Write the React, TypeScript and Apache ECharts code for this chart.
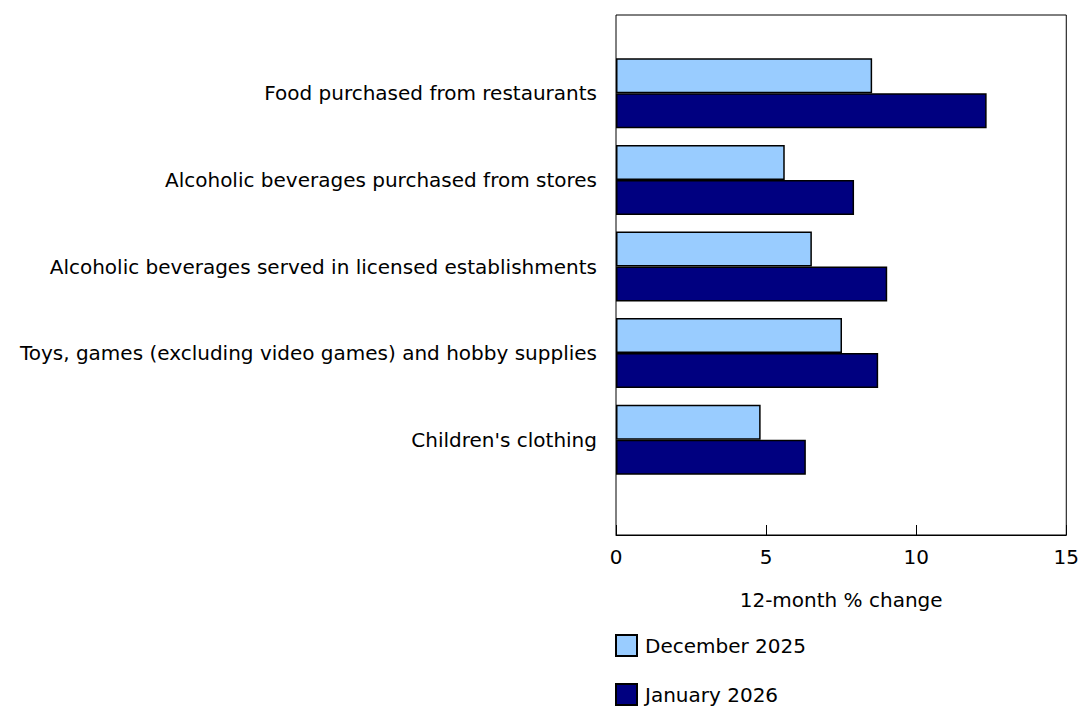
import React, { useEffect, useRef } from "react";
import * as echarts from "echarts";

const categories = [
  "Food purchased from restaurants",
  "Alcoholic beverages purchased from stores",
  "Alcoholic beverages served in licensed establishments",
  "Toys, games (excluding video games) and hobby supplies",
  "Children's clothing",
];
const december2025 = [8.5, 5.6, 6.5, 7.5, 4.8];
const january2026 = [12.3, 7.9, 9.0, 8.7, 6.3];
const seriesNames = ["December 2025", "January 2026"];
const xTicks = { min: 0, max: 15, interval: 5 };

const FONT = "DejaVu Sans, Verdana, sans-serif";
const FS = 20;

export default function App() {
  const ref = useRef<HTMLDivElement>(null);
  useEffect(() => {
    if (!ref.current) return;
    const chart = echarts.init(ref.current, null, { renderer: "svg" });
    const legendBase = {
      orient: "horizontal",
      left: 615,
      padding: 0,
      itemWidth: 21,
      itemHeight: 21,
      itemGap: 10,
      icon: "rect",
      textStyle: { fontSize: FS, color: "#000", fontFamily: FONT, padding: [0, 0, 0, 3] },
    };
    chart.setOption({
      animation: false,
      textStyle: { fontFamily: FONT },
      grid: [
        {
          left: 616,
          right: 14,
          top: 15,
          height: 520,
          show: true,
          borderColor: "#000",
          borderWidth: 1,
          backgroundColor: "transparent",
        },
        { left: 616, right: 14, top: 50, height: 433 },
      ],
      legend: [
        { ...legendBase, top: 634, data: [seriesNames[0]] },
        { ...legendBase, top: 683, data: [seriesNames[1]] },
      ],
      xAxis: [
        {
          gridIndex: 0,
          type: "value",
          min: xTicks.min,
          max: xTicks.max,
          interval: xTicks.interval,
          splitLine: { show: false },
          axisLine: { show: true, lineStyle: { color: "#000" } },
          axisTick: { show: true, inside: true, length: 10, lineStyle: { color: "#000" } },
          axisLabel: { color: "#000", fontSize: FS, margin: 12, fontFamily: FONT },
          name: "12-month % change",
          nameLocation: "middle",
          nameGap: 55,
          nameTextStyle: { color: "#000", fontSize: FS, fontFamily: FONT },
        },
        {
          gridIndex: 1,
          type: "value",
          min: xTicks.min,
          max: xTicks.max,
          interval: xTicks.interval,
          show: false,
          splitLine: { show: false },
        },
      ],
      yAxis: [
        {
          gridIndex: 0,
          type: "value",
          show: false,
          splitLine: { show: false },
        },
        {
          gridIndex: 1,
          type: "category",
          inverse: true,
          data: categories,
          axisLine: { show: false },
          axisTick: { show: false },
          axisLabel: { color: "#000", fontSize: FS, margin: 19, fontFamily: FONT },
        },
      ],
      series: [
        {
          name: seriesNames[0],
          type: "bar",
          xAxisIndex: 1,
          yAxisIndex: 1,
          data: december2025,
          barWidth: 35,
          barGap: "0%",
          itemStyle: { color: "#99ccff", borderColor: "#000", borderWidth: 1.5 },
        },
        {
          name: seriesNames[1],
          type: "bar",
          xAxisIndex: 1,
          yAxisIndex: 1,
          data: january2026,
          barWidth: 35,
          barGap: "0%",
          itemStyle: { color: "#000080", borderColor: "#000", borderWidth: 1.5 },
        },
      ],
    });
    return () => chart.dispose();
  }, []);
  return (
    <div
      ref={ref}
      style={{ position: "absolute", left: 0, top: 0, width: 1082, height: 707, background: "#fff" }}
    />
  );
}
